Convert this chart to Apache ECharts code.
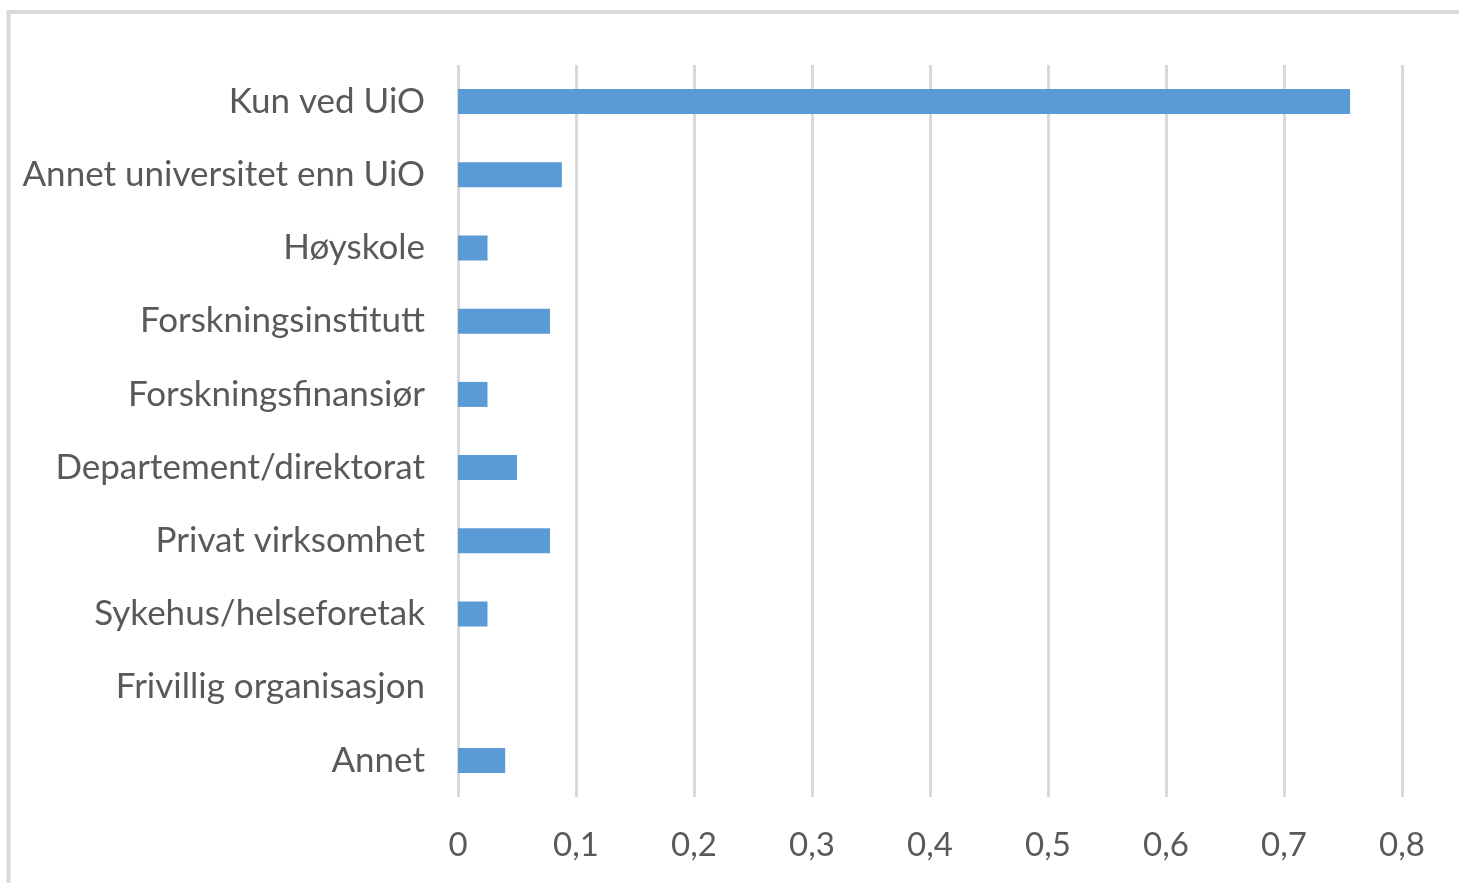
<!DOCTYPE html>
<html>
<head>
<meta charset="utf-8">
<script src="https://cdn.jsdelivr.net/npm/echarts@6/dist/echarts.min.js"></script>
<style>
html,body{margin:0;padding:0;background:#fff;}
#main{width:1459px;height:883px;}
</style>
</head>
<body>
<div id="main"></div>
<script>
const categories = [
  "Kun ved UiO",
  "Annet universitet enn UiO",
  "Høyskole",
  "Forskningsinstitutt",
  "Forskningsfinansiør",
  "Departement/direktorat",
  "Privat virksomhet",
  "Sykehus/helseforetak",
  "Frivillig organisasjon",
  "Annet"
];
const values = [0.756, 0.088, 0.025, 0.078, 0.025, 0.050, 0.078, 0.025, 0, 0.040];
const tickLabels = ["0", "0,1", "0,2", "0,3", "0,4", "0,5", "0,6", "0,7", "0,8"];

const chart = echarts.init(document.getElementById('main'), null, {renderer: 'canvas'});
const FONT = "Lato";
chart.setOption({
  animation: false,
  backgroundColor: '#ffffff',
  graphic: [{
    type: 'rect',
    shape: {x: 8.5, y: 12, width: 1500, height: 1000},
    style: {fill: 'none', stroke: '#d9d9d9', lineWidth: 4},
    silent: true
  }],
  grid: {left: 458, right: 57, top: 65, bottom: 86, containLabel: false},
  xAxis: {
    type: 'value',
    min: 0, max: 0.8, interval: 0.1,
    axisLine: {show: false},
    axisTick: {show: false},
    splitLine: {show: true, lineStyle: {color: '#d9d9d9', width: 3}},
    axisLabel: {
      color: '#595959', fontFamily: FONT, fontSize: 33, margin: 32,
      formatter: function (v) { return tickLabels[Math.round(v * 10)]; }
    }
  },
  yAxis: {
    type: 'category',
    data: categories,
    inverse: true,
    axisLine: {show: false},
    axisTick: {show: false},
    axisLabel: {color: '#595959', fontFamily: FONT, fontSize: 35, margin: 33, padding: [4, 0, 0, 0]}
  },
  series: [{
    type: 'bar',
    data: values,
    barWidth: 25,
    itemStyle: {color: '#5b9bd5'}
  }]
});
</script>
</body>
</html>
